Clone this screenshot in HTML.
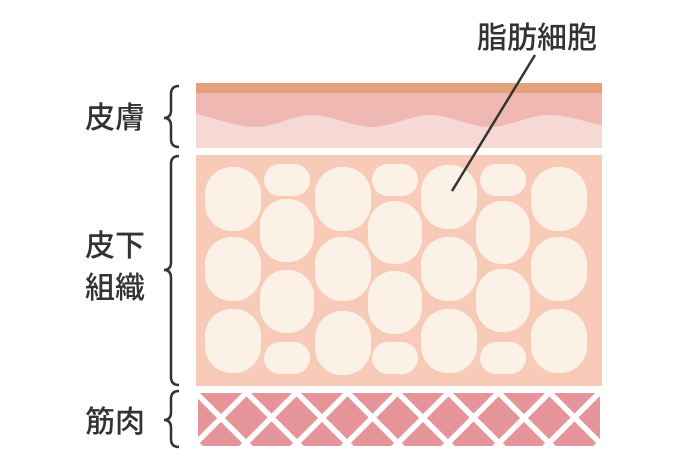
<!DOCTYPE html>
<html><head><meta charset="utf-8"><style>
html,body{margin:0;padding:0;background:#fff;width:700px;height:460px;overflow:hidden}
text{font-family:"Liberation Sans","Noto Sans CJK JP",sans-serif;fill:#333;font-size:30px;font-weight:500}
</style></head><body>
<svg width="700" height="460" viewBox="0 0 700 460" xmlns="http://www.w3.org/2000/svg">
<defs>
<clipPath id="mc"><rect x="196" y="391" width="406" height="57"/></clipPath>
</defs>
<rect x="196" y="83" width="406" height="10" fill="#e5a07e"/>
<rect x="196" y="93" width="406" height="55" fill="#f0b8b2"/>
<path d="M196,114 C216,118 236,127 256,127 C276,127 292,115 312,115 C332,115 352,127 372,127 C392,127 410,115 430,115 C450,115 470,127 490,127 C510,127 528,115 548,115 C568,115 585,122 602,125 L602,148 L196,148 Z" fill="#f6d8d4"/>
<rect x="196" y="155" width="406" height="231" fill="#f8cbb8"/>
<g fill="#fcf1e7">
<rect x="205" y="167" width="56" height="64" rx="27"/>
<rect x="205" y="237" width="56" height="64" rx="27"/>
<rect x="205" y="309" width="56" height="64" rx="27"/>
<rect x="315" y="167" width="56" height="64" rx="27"/>
<rect x="315" y="237" width="56" height="64" rx="27"/>
<rect x="315" y="311" width="56" height="64" rx="27"/>
<rect x="421" y="165" width="56" height="64" rx="27"/>
<rect x="421" y="237" width="56" height="64" rx="27"/>
<rect x="421" y="309" width="56" height="64" rx="27"/>
<rect x="531" y="167" width="56" height="64" rx="27"/>
<rect x="531" y="237" width="56" height="64" rx="27"/>
<rect x="531" y="309" width="56" height="64" rx="27"/>
<rect x="264" y="164" width="46" height="32" rx="16"/>
<rect x="260" y="199" width="54" height="63" rx="26"/>
<rect x="260" y="270" width="54" height="63" rx="26"/>
<rect x="264" y="342" width="46" height="32" rx="16"/>
<rect x="372" y="164" width="46" height="32" rx="16"/>
<rect x="368" y="201" width="54" height="63" rx="26"/>
<rect x="368" y="271" width="54" height="63" rx="26"/>
<rect x="372" y="342" width="46" height="32" rx="16"/>
<rect x="480" y="164" width="46" height="32" rx="16"/>
<rect x="476" y="201" width="54" height="63" rx="26"/>
<rect x="476" y="269" width="54" height="63" rx="26"/>
<rect x="480" y="342" width="46" height="32" rx="16"/>
</g>
<rect x="196" y="391" width="406" height="57" fill="#e5959a"/>
<g clip-path="url(#mc)" stroke="#fff" stroke-width="5.5" stroke-linejoin="round">
<path d="M117,364 L227,474 M167,364 L277,474 M218,364 L328,474 M268,364 L378,474 M319,364 L429,474 M369,364 L479,474 M420,364 L530,474 M470,364 L580,474 M521,364 L631,474 M571,364 L681,474
M165,474 L275,364 M215,474 L325,364 M266,474 L376,364 M316,474 L426,364 M367,474 L477,364 M417,474 L527,364 M468,474 L578,364 M518,474 L628,364 M569,474 L679,364 M619,474 L729,364"/>
<rect x="196" y="391" width="406" height="57" fill="none" stroke-width="4"/>
</g>
<line x1="535" y1="55" x2="452" y2="191" stroke="#333" stroke-width="2.5"/>
<text x="477" y="48">脂肪細胞</text>
<g fill="none" stroke="#333" stroke-width="2.5">
<path d="M179,86 Q171,86 171,94 L171,110 Q171,118 164,118 Q171,118 171,126 L171,139 Q171,147 179,147"/>
<path d="M179,156 Q171,156 171,164 L171,262 Q171,270 164,270 Q171,270 171,278 L171,377 Q171,385 179,385"/>
<path d="M179,391 Q171,391 171,399 L171,412 Q171,420 164,420 Q171,420 171,428 L171,439 Q171,447 179,447"/>
</g>
<text x="85" y="128">皮膚</text>
<text x="85" y="256">皮下</text>
<text x="85" y="298">組織</text>
<text x="85" y="432">筋肉</text>
</svg>
</body></html>
